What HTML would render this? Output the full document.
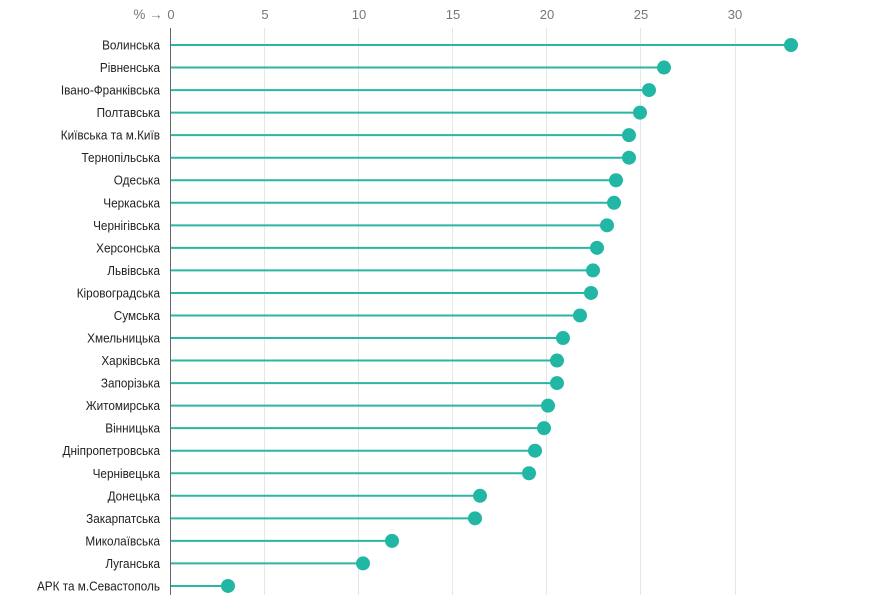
<!DOCTYPE html>
<html><head><meta charset="utf-8"><style>
html,body{margin:0;padding:0;background:#fff;}
svg{display:block;font-family:"Liberation Sans",sans-serif;}
</style></head><body>
<svg width="890" height="595" viewBox="0 0 890 595">
<g stroke="#e6e6e6" stroke-width="1">
<line x1="264.5" y1="28" x2="264.5" y2="595"/>
<line x1="358.5" y1="28" x2="358.5" y2="595"/>
<line x1="452.5" y1="28" x2="452.5" y2="595"/>
<line x1="546.5" y1="28" x2="546.5" y2="595"/>
<line x1="640.5" y1="28" x2="640.5" y2="595"/>
<line x1="735.5" y1="28" x2="735.5" y2="595"/>
</g>
<g font-size="13" fill="#777" text-anchor="middle">
<text x="171" y="19">0</text><text x="265" y="19">5</text><text x="359" y="19">10</text><text x="453" y="19">15</text><text x="547" y="19">20</text><text x="641" y="19">25</text><text x="735" y="19">30</text>
<text x="148" y="19" font-size="13.5">% →</text>
</g>
<g id="lines"></g>
<g transform="translate(160,0) scale(0.94,1)"><g id="rows" font-size="12.5" fill="#222" text-anchor="end"></g></g>
<line x1="170.5" y1="28" x2="170.5" y2="595" stroke="#666" stroke-width="1"/>
</svg>
<script>
var d=[["Волинська",791],["Рівненська",664],["Івано-Франківська",649],["Полтавська",640],["Київська та м.Київ",629],["Тернопільська",629],["Одеська",616],["Черкаська",614],["Чернігівська",607],["Херсонська",597],["Львівська",593],["Кіровоградська",591],["Сумська",580],["Хмельницька",563],["Харківська",557],["Запорізька",557],["Житомирська",548],["Вінницька",544],["Дніпропетровська",535],["Чернівецька",529],["Донецька",480],["Закарпатська",475],["Миколаївська",392],["Луганська",363],["АРК та м.Севастополь",228]];
var h="",t="";
d.forEach(function(r,i){var y=45+i*22.54;
t+='<text x="0" y="'+(y+4.5)+'">'+r[0]+'</text>';
h+='<line x1="171" y1="'+y+'" x2="'+r[1]+'" y2="'+y+'" stroke="#2bb5a3" stroke-width="2"/><circle cx="'+r[1]+'" cy="'+y+'" r="7" fill="#22b7a4"/>';});
document.getElementById("rows").innerHTML=t;
document.getElementById("lines").innerHTML=h;
</script>
</body></html>
